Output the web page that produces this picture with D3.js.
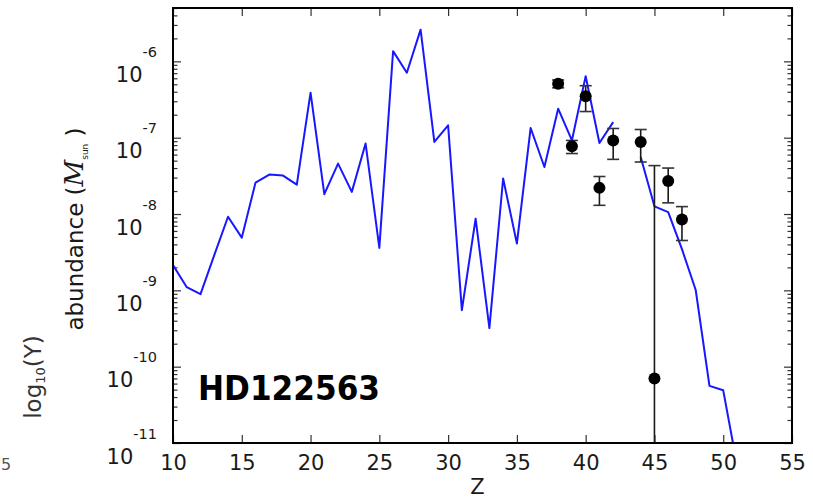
<!DOCTYPE html>
<html>
<head>
<meta charset="utf-8">
<script src="https://cdn.jsdelivr.net/npm/d3@7"></script>
<style>
    body { margin: 0; background: #ffffff; }
    svg { display: block; }
    text { font-family: "DejaVu Sans", sans-serif; }
</style>
</head>
<body>
<svg id="chart" width="813" height="499"></svg>
<script>
/**
 * Proton numbers of the model curve.
 */
const modelZ = [10, 11, 12, 13, 14, 15, 16, 17, 18, 19, 20, 21, 22, 23, 24, 25, 26, 27, 28, 29, 30,
    31, 32, 33, 34, 35, 36, 37, 38, 39, 40, 41, 42, 43, 44, 45, 46, 47, 48, 49, 50, 51];

/**
 * Model abundance in solar masses (null = no value, gap in the line).
 */
const modelAbund = [2.14e-9, 1.10e-9, 8.9e-10, 2.89e-9, 9.2e-9, 4.9e-9, 2.58e-8, 3.29e-8, 3.19e-8, 2.43e-8,
    3.89e-7, 1.82e-8, 4.58e-8, 1.95e-8, 8.4e-8, 3.6e-9, 1.36e-6, 7.1e-7, 2.60e-6, 8.8e-8, 1.45e-7,
    5.5e-10, 8.7e-9, 3.2e-10, 2.92e-8, 4.1e-9, 1.34e-7, 4.13e-8, 2.40e-7, 9.2e-8, 6.4e-7, 8.5e-8,
    1.60e-7, null, 5.6e-8, 1.26e-8, 1.06e-8, 3.46e-9, 1.01e-9, 5.6e-11, 4.9e-11, 5.2e-12];

/**
 * Observed abundances of HD122563 with their errors.
 */
const obsZ = [38, 39, 40, 41, 42, 44, 45, 46, 47];
const obsAbund = [5.1e-7, 7.7e-8, 3.5e-7, 2.2e-8, 9.2e-8, 8.8e-8, 7.0e-11, 2.7e-8, 8.5e-9];
const obsErr = [6e-8, 1.5e-8, 1.3e-7, 9e-9, 4e-8, 4e-8, 4.3e-8, 1.3e-8, 4e-9];

/**
 * Axis ticks.
 */
const xTicks = [10, 15, 20, 25, 30, 35, 40, 45, 50, 55];
const yTicks = [1e-11, 1e-10, 1e-9, 1e-8, 1e-7, 1e-6];
const yTickExp = ["-11", "-10", "-9", "-8", "-7", "-6"];
const xDomain = [10, 55];
const yDomain = [1e-11, 5e-6];

// plot box
const boxLeft = 173, boxRight = 792, boxTop = 8, boxBottom = 443;
const lineColor = "#1818ff";
const ink = "#1a1a1a";

let svg = d3.select("#chart");

let x = d3.scaleLinear().domain(xDomain).range([boxLeft, boxRight]);
let y = d3.scaleLog().domain(yDomain).range([boxBottom, boxTop]);

// minor ticks 2..9 of every decade inside the domain
let yMinor = [];
for (let e = -11; e <= -6; e++) {
    for (let m = 2; m <= 9; m++) {
        let v = m * Math.pow(10, e);
        if (v < yDomain[1]) yMinor.push(v);
    }
}

svg.append("clipPath").attr("id", "plot-clip")
    .append("rect")
    .attr("x", boxLeft).attr("y", boxTop)
    .attr("width", boxRight - boxLeft).attr("height", boxBottom - boxTop);

/**
 * Gives the axis group the look of the original (thin inward ticks, no domain line).
 */
function style_axis(g) {
    g.select(".domain").remove();
    g.selectAll(".tick line").attr("stroke", "#333").attr("stroke-width", 1.2);
    g.selectAll(".tick text").attr("fill", ink);
}

// bottom axis with labels
let gx = svg.append("g")
    .attr("transform", "translate(0," + boxBottom + ")")
    .call(d3.axisBottom(x).tickValues(xTicks).tickSize(-8).tickSizeOuter(0).tickPadding(12))
    .attr("font-size", 21).attr("font-family", "DejaVu Sans");
style_axis(gx);

// top axis, ticks only
let gxt = svg.append("g")
    .attr("transform", "translate(0," + boxTop + ")")
    .call(d3.axisTop(x).tickValues(xTicks).tickSize(-8).tickSizeOuter(0).tickFormat(""));
style_axis(gxt);

// left axis major + minor
let gy = svg.append("g")
    .attr("transform", "translate(" + boxLeft + ",0)")
    .call(d3.axisLeft(y).tickValues(yTicks).tickSize(-8).tickSizeOuter(0).tickPadding(16))
    .attr("font-size", 21).attr("font-family", "DejaVu Sans");
style_axis(gy);

// replace the plain labels with 10^exp
gy.selectAll(".tick text").each(function (d, i) {
    let t = d3.select(this);
    t.text("").attr("dy", null).attr("y", 20);
    t.append("tspan").text("10");
    t.append("tspan").attr("dy", -25).attr("font-size", 14.5).text(yTickExp[i]);
});

let gym = svg.append("g")
    .attr("transform", "translate(" + boxLeft + ",0)")
    .call(d3.axisLeft(y).tickValues(yMinor).tickSize(-4.5).tickSizeOuter(0).tickFormat(""));
style_axis(gym);

// right axis major + minor
let gyr = svg.append("g")
    .attr("transform", "translate(" + boxRight + ",0)")
    .call(d3.axisRight(y).tickValues(yTicks).tickSize(-8).tickSizeOuter(0).tickFormat(""));
style_axis(gyr);
let gyrm = svg.append("g")
    .attr("transform", "translate(" + boxRight + ",0)")
    .call(d3.axisRight(y).tickValues(yMinor).tickSize(-4.5).tickSizeOuter(0).tickFormat(""));
style_axis(gyrm);

// model line
let model = modelZ.map(function (z, i) {
    return {z: z, v: modelAbund[i]};
});
let line = d3.line()
    .defined(function (d) { return d.v !== null; })
    .x(function (d) { return x(d.z); })
    .y(function (d) { return y(d.v); });

svg.append("path")
    .datum(model)
    .attr("clip-path", "url(#plot-clip)")
    .attr("fill", "none")
    .attr("stroke", lineColor)
    .attr("stroke-width", 2)
    .attr("stroke-linejoin", "round")
    .attr("d", line);

// observations with error bars
let obs = obsZ.map(function (z, i) {
    return {z: z, v: obsAbund[i], err: obsErr[i]};
});
let lowOf = function (d) {
    // negative lower bound runs off the bottom of a log axis
    return d.v - d.err > 0 ? d.v - d.err : yDomain[0] / 10;
};

let eb = svg.append("g").attr("clip-path", "url(#plot-clip)");
eb.selectAll(".bar")
    .data(obs)
    .enter().append("line")
    .attr("class", "bar")
    .attr("x1", function (d) { return x(d.z); })
    .attr("x2", function (d) { return x(d.z); })
    .attr("y1", function (d) { return y(d.v + d.err); })
    .attr("y2", function (d) { return y(lowOf(d)); })
    .attr("stroke", ink).attr("stroke-width", 1.6);

// caps at both ends
["up", "down"].forEach(function (side) {
    eb.selectAll(".cap-" + side)
        .data(obs)
        .enter().append("line")
        .attr("class", "cap-" + side)
        .attr("x1", function (d) { return x(d.z) - 6; })
        .attr("x2", function (d) { return x(d.z) + 6; })
        .attr("y1", function (d) { return side === "up" ? y(d.v + d.err) : y(lowOf(d)); })
        .attr("y2", function (d) { return side === "up" ? y(d.v + d.err) : y(lowOf(d)); })
        .attr("stroke", "#333").attr("stroke-width", 1.6);
});

eb.selectAll(".dot")
    .data(obs)
    .enter().append("circle")
    .attr("class", "dot")
    .attr("cx", function (d) { return x(d.z); })
    .attr("cy", function (d) { return y(d.v); })
    .attr("r", 6)
    .attr("fill", "#000");

// frame
svg.append("rect")
    .attr("x", boxLeft).attr("y", boxTop)
    .attr("width", boxRight - boxLeft).attr("height", boxBottom - boxTop)
    .attr("fill", "none").attr("stroke", "#000").attr("stroke-width", 2);

// axis titles
svg.append("text")
    .attr("x", (boxLeft + boxRight) / 2 - 5).attr("y", 494)
    .attr("text-anchor", "middle").attr("font-size", 21).attr("fill", ink)
    .text("Z");

let yl = svg.append("text")
    .attr("transform", "translate(83,229) rotate(-90)")
    .attr("text-anchor", "middle").attr("font-size", 23).attr("fill", ink);
yl.append("tspan").text("abundance (");
yl.append("tspan").attr("font-style", "italic").attr("font-family", "DejaVu Serif").attr("font-size", 26).text("M");
yl.append("tspan").attr("dy", 5).attr("font-size", 9).text("sun");
yl.append("tspan").attr("dy", -5).text(" )");

// star name
svg.append("text")
    .attr("x", 198).attr("y", 400)
    .attr("font-size", 33).attr("font-weight", "bold").attr("fill", "#000")
    .attr("textLength", 182).attr("lengthAdjust", "spacingAndGlyphs")
    .text("HD122563");

// bits of the neighbouring panel at the left edge
let nb = svg.append("text")
    .attr("transform", "translate(41,377) rotate(-90)")
    .attr("text-anchor", "middle").attr("font-size", 23).attr("fill", "#333");
nb.append("tspan").text("log");
nb.append("tspan").attr("dy", 4).attr("font-size", 13).text("10");
nb.append("tspan").attr("dy", -4).text("(Y)");

svg.append("text")
    .attr("x", 1).attr("y", 470)
    .attr("font-size", 16).attr("fill", "#555")
    .text("5");
</script>
</body>
</html>
